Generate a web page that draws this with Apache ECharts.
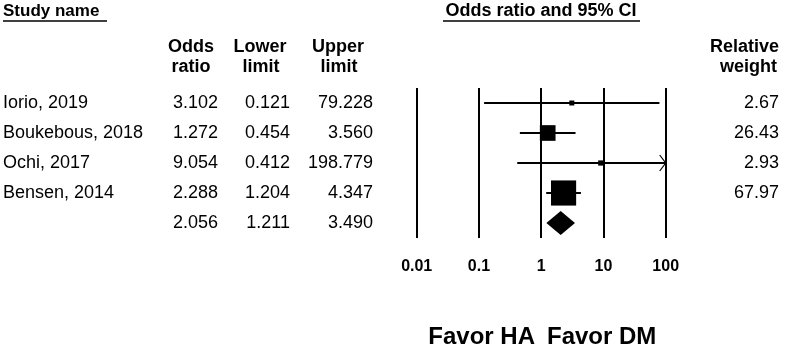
<!DOCTYPE html>
<html>
<head>
<meta charset="utf-8">
<script src="https://cdn.jsdelivr.net/npm/echarts@6/dist/echarts.min.js"></script>
<style>
  html, body { margin: 0; padding: 0; background: #fff; }
  #main { width: 787px; height: 346px; }
</style>
</head>
<body>
<div id="main"></div>
<script>
// forest plot data
const studies = ['Iorio, 2019', 'Boukebous, 2018', 'Ochi, 2017', 'Bensen, 2014'];
const oddsRatio = [3.102, 1.272, 9.054, 2.288];
const lowerLimit = [0.121, 0.454, 0.412, 1.204];
const upperLimit = [79.228, 3.560, 198.779, 4.347];
const relWeight = [2.67, 26.43, 2.93, 67.97];
const pooled = [2.056, 1.211, 3.490]; // OR, lower, upper
const xTicks = [0.01, 0.1, 1, 10, 100];

const FONT = '"Liberation Sans", Arial, sans-serif';
const chart = echarts.init(document.getElementById('main'));

const rows = studies.map((s, i) => [i, oddsRatio[i], lowerLimit[i], upperLimit[i], relWeight[i]]);
rows.push([studies.length, pooled[0], pooled[1], pooled[2], -1]);

function cellText(txt, x, y, align) {
  return {
    type: 'text',
    style: { text: txt, x: x, y: y, align: align, verticalAlign: 'middle', fill: '#000', font: '18px ' + FONT }
  };
}

function renderItem(params, api) {
  const row = api.value(0);
  const or = api.value(1), lo = api.value(2), hi = api.value(3), w = api.value(4);
  const xMax = xTicks[xTicks.length - 1];
  const pOr = api.coord([or, row]);
  const pLo = api.coord([lo, row]);
  const pHi = api.coord([Math.min(hi, xMax), row]);
  const y = pOr[1];
  const kids = [];
  const idx = params.dataIndex;

  if (w >= 0) {
    kids.push(cellText(studies[idx], 3, y, 'left'));
    kids.push({
      type: 'line',
      shape: { x1: pLo[0], y1: y, x2: pHi[0], y2: y },
      style: { stroke: '#000', lineWidth: 2 }
    });
    // upper limit off the scale: arrow head at the edge
    if (hi > xMax) {
      kids.push({
        type: 'polyline',
        shape: { points: [[pHi[0] - 6, y - 8], [pHi[0], y], [pHi[0] - 6, y + 8]] },
        style: { stroke: '#000', lineWidth: 1.2, fill: null }
      });
    }
    const s = Math.max(5, 3.05 * Math.sqrt(w));
    kids.push({
      type: 'rect',
      shape: { x: pOr[0] - s / 2, y: y - s / 2, width: s, height: s },
      style: { fill: '#000' }
    });
    kids.push(cellText(w.toFixed(2), 779, y, 'right'));
  } else {
    kids.push({
      type: 'polygon',
      shape: { points: [[pLo[0], y], [pOr[0], y - 12], [pHi[0], y], [pOr[0], y + 12]] },
      style: { fill: '#000' }
    });
  }
  kids.push(cellText(or.toFixed(3), 218, y, 'right'));
  kids.push(cellText(lo.toFixed(3), 290, y, 'right'));
  kids.push(cellText(hi.toFixed(3), 373, y, 'right'));
  return { type: 'group', children: kids };
}

function hdr(txt, x, y, align, size) {
  return {
    type: 'text',
    style: { text: txt, x: x, y: y, align: align, verticalAlign: 'middle', fill: '#000', font: 'bold ' + (size || 18) + 'px ' + FONT }
  };
}
function uline(x1, x2, y) {
  return { type: 'line', shape: { x1: x1, y1: y, x2: x2, y2: y }, style: { stroke: '#000', lineWidth: 1.5 } };
}

chart.setOption({
  animation: false,
  backgroundColor: '#fff',
  grid: { left: 416.7, right: 121.3, top: 88, height: 150 },
  xAxis: {
    type: 'log',
    logBase: 10,
    min: xTicks[0],
    max: xTicks[xTicks.length - 1],
    axisLine: { show: false },
    axisTick: { show: false },
    splitLine: { show: true, showMinLine: true, showMaxLine: true, lineStyle: { color: '#000', width: 2 } },
    axisLabel: {
      margin: 21,
      color: '#000',
      fontFamily: FONT,
      fontWeight: 'bold',
      fontSize: 16,
      formatter: v => String(+v.toPrecision(6))
    }
  },
  yAxis: { type: 'value', min: -0.5, max: 4.5, inverse: true, show: false },
  graphic: [
    hdr('Study name', 3, 11, 'left', 17),
    uline(3, 107, 21),
    hdr('Odds ratio and 95% CI', 541, 11, 'center', 18),
    uline(443, 640, 21),
    hdr('Odds', 191, 47, 'center'),
    hdr('ratio', 191, 67, 'center'),
    hdr('Lower', 260, 47, 'center'),
    hdr('limit', 261, 67, 'center'),
    hdr('Upper', 338, 47, 'center'),
    hdr('limit', 339, 67, 'center'),
    hdr('Relative', 779, 47, 'right'),
    hdr('weight', 777, 67, 'right'),
    hdr('Favor HA', 535, 337, 'right', 24),
    hdr('Favor DM', 547, 337, 'left', 24)
  ],
  series: [{
    type: 'custom',
    clip: false,
    renderItem: renderItem,
    encode: { x: [1, 2, 3], y: 0 },
    data: rows
  }]
});
</script>
</body>
</html>
